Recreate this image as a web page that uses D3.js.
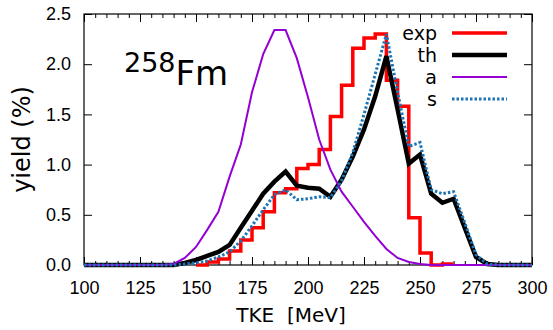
<!DOCTYPE html>
<html>
<head>
<meta charset="utf-8">
<script src="https://cdn.jsdelivr.net/npm/d3@7"></script>
<style>
  body { margin: 0; background: #fff; }
  svg { display: block; font-family: "DejaVu Sans", sans-serif; }
  .axis text { font-size: 18px; fill: #000; }
  .axis line { stroke: #000; stroke-width: 1; }
</style>
</head>
<body>
<script>
// energies of the calculated curves (MeV)
const tke = d3.range(100, 301, 5);
// th, a, s yields (%) at the energies above
const th = [0, 0, 0, 0, 0, 0, 0, 0, 0, 0.02, 0.05, 0.09, 0.13, 0.2, 0.37, 0.54, 0.71, 0.83, 0.93, 0.79,
  0.77, 0.76, 0.68, 0.85, 1.08, 1.35, 1.68, 2.08, 1.55, 1.01, 1.1, 0.71, 0.62, 0.66, 0.37, 0.08, 0.01, 0, 0, 0, 0];
const a = [0, 0, 0, 0, 0, 0, 0, 0, 0.01, 0.07, 0.18, 0.35, 0.53, 0.88, 1.2, 1.72, 2.1, 2.34, 2.34, 2.06,
  1.67, 1.25, 0.95, 0.73, 0.58, 0.43, 0.29, 0.16, 0.07, 0.03, 0.01, 0, 0, 0, 0, 0, 0, 0, 0, 0, 0];
const s = [0, 0, 0, 0, 0, 0, 0, 0, 0, 0.01, 0.02, 0.04, 0.08, 0.13, 0.24, 0.39, 0.55, 0.7, 0.75, 0.65,
  0.66, 0.68, 0.67, 0.84, 1.12, 1.5, 1.9, 2.3, 1.72, 1.18, 1.22, 0.75, 0.71, 0.73, 0.42, 0.1, 0.01, 0, 0, 0, 0];
// experimental histogram: left bin edges (MeV) and yields (%)
const expEdges = d3.range(150, 265, 5);
const expY = [0, 0.03, 0.06, 0.14, 0.25, 0.37, 0.53, 0.72, 0.76, 0.96, 1.0, 1.15, 1.48, 1.79, 2.16, 2.26,
  2.3, 1.84, 1.58, 0.47, 0.12, 0, 0.01];
const binWidth = 5;

const xTicks = d3.range(100, 301, 25);
const yTicks = [0, 0.5, 1.0, 1.5, 2.0, 2.5];

const w = 553;
const h = 330;
const padL = 84, padR = 532, padT = 14, padB = 265;

const svg = d3.select('body').append('svg')
  .attr('width', w)
  .attr('height', h);

const x = d3.scaleLinear().domain([100, 300]).range([padL, padR]);
const y = d3.scaleLinear().domain([0, 2.5]).range([padB, padT]);

// ticks (inward, mirrored)
svg.append('g').attr('class', 'axis')
  .attr('transform', 'translate(0,' + padB + ')')
  .call(d3.axisBottom(x).tickValues(xTicks).tickSizeInner(-8).tickSizeOuter(0).tickPadding(16));
svg.append('g').attr('class', 'axis')
  .attr('transform', 'translate(0,' + padB + ')')
  .call(d3.axisBottom(x).tickValues(d3.range(100, 301, 5)).tickSize(-4).tickFormat(''));
svg.append('g').attr('class', 'axis')
  .attr('transform', 'translate(0,' + padT + ')')
  .call(d3.axisTop(x).tickValues(xTicks).tickSize(-8).tickFormat(''));
svg.append('g').attr('class', 'axis')
  .attr('transform', 'translate(0,' + padT + ')')
  .call(d3.axisTop(x).tickValues(d3.range(100, 301, 5)).tickSize(-4).tickFormat(''));
svg.append('g').attr('class', 'axis')
  .attr('transform', 'translate(' + padL + ',0)')
  .call(d3.axisLeft(y).tickValues(yTicks).tickSizeInner(-8).tickSizeOuter(0).tickPadding(13).tickFormat(d3.format('.1f')));
svg.append('g').attr('class', 'axis')
  .attr('transform', 'translate(' + padR + ',0)')
  .call(d3.axisRight(y).tickValues(yTicks).tickSize(-8).tickFormat(''));
svg.selectAll('.axis .domain').remove();

svg.append('rect')
  .attr('x', padL).attr('y', padT)
  .attr('width', padR - padL).attr('height', padB - padT)
  .attr('fill', 'none').attr('stroke', '#000').attr('stroke-width', 1.2);

// curves
const expPts = expEdges.map((e, i) => [e, expY[i]]);
expPts.push([expEdges[expEdges.length - 1] + binWidth, expY[expY.length - 1]]);
const stepLine = d3.line().x(d => x(d[0])).y(d => y(d[1])).curve(d3.curveStepAfter);
const line = d3.line().x(d => x(d[0])).y(d => y(d[1]));

const series = [
  { name: 'exp', color: '#ff0000', width: 3.5, dash: null },
  { name: 'th', color: '#000000', width: 4.5, dash: null },
  { name: 'a', color: '#9400d3', width: 2, dash: null },
  { name: 's', color: '#1a74b6', width: 3, dash: '2.5,2' }
];

svg.append('path')
  .attr('d', stepLine(expPts))
  .attr('fill', 'none').attr('stroke', series[0].color).attr('stroke-width', series[0].width);

[th, a, s].forEach((vals, k) => {
  const sr = series[k + 1];
  svg.append('path')
    .attr('d', line(tke.map((e, i) => [e, vals[i]])))
    .attr('fill', 'none')
    .attr('stroke', sr.color)
    .attr('stroke-width', sr.width)
    .attr('stroke-dasharray', sr.dash)
    .attr('stroke-linejoin', 'miter');
});

// legend
series.forEach((sr, i) => {
  const ly = 33 + i * 22;
  svg.append('text')
    .attr('x', 437).attr('y', ly).attr('dy', '0.35em')
    .attr('text-anchor', 'end')
    .style('font-size', '19px')
    .text(sr.name);
  svg.append('line')
    .attr('x1', 452).attr('x2', 507).attr('y1', ly).attr('y2', ly)
    .attr('stroke', sr.color).attr('stroke-width', sr.width)
    .attr('stroke-dasharray', sr.dash);
});

// nucleus label
const lab = svg.append('text').attr('x', 124).attr('y', 85).style('font-size', '34px');
lab.append('tspan').attr('dy', -13).style('font-size', '27px').text('258');
lab.append('tspan').attr('dy', 13).text('Fm');

// axis titles
svg.append('text')
  .attr('x', 291).attr('y', 322)
  .attr('text-anchor', 'middle')
  .style('font-size', '20px')
  .text('TKE\u00a0\u00a0[MeV]');
svg.append('text')
  .attr('transform', 'translate(30,' + ((padT + padB) / 2) + ') rotate(-90)')
  .attr('text-anchor', 'middle')
  .style('font-size', '24px')
  .text('yield (%)');
</script>
</body>
</html>
